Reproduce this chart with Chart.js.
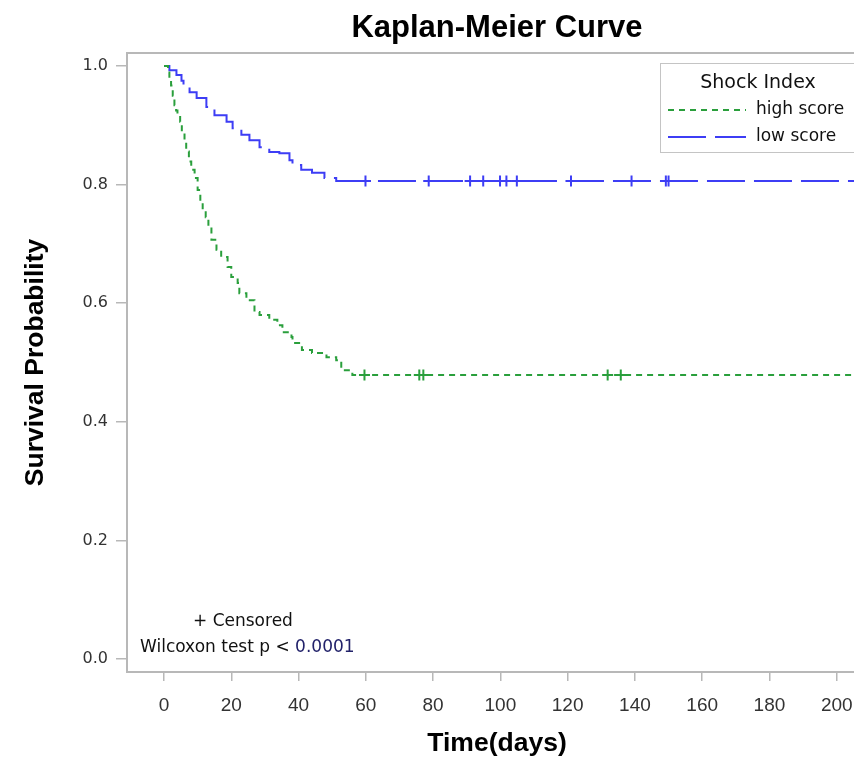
<!DOCTYPE html>
<html>
<head>
<meta charset="utf-8">
<script src="https://cdn.jsdelivr.net/npm/chart.js@4.4.1/dist/chart.umd.min.js"></script>
<style>
  html, body { margin: 0; padding: 0; background: #fff; overflow: hidden; }
  #wrap { width: 990px; height: 760px; }
</style>
</head>
<body>
<div id="wrap"><canvas id="km" width="990" height="760"></canvas></div>
<script>
// Kaplan-Meier estimates (time in days, survival probability)
const highTime = [0, 1.2, 1.6, 2.1, 2.6, 3.1, 3.6, 4.0, 4.8, 5.3, 6.1, 6.6, 7.4, 8.1, 9.1, 10.0, 10.8, 11.5, 12.4, 13.2, 14.1, 15.6, 17.0, 18.9, 20.0, 21.9, 22.4, 24.5, 26.9, 28.4, 31.3, 33.7, 35.2, 37.9, 38.2, 41.0, 44.0, 48.3, 51.2, 52.7, 56.0, 212];
const highSurv = [1.0, 0.989, 0.978, 0.967, 0.95, 0.934, 0.925, 0.917, 0.906, 0.889, 0.872, 0.856, 0.839, 0.825, 0.811, 0.791, 0.772, 0.757, 0.745, 0.728, 0.707, 0.69, 0.678, 0.661, 0.644, 0.634, 0.617, 0.605, 0.585, 0.58, 0.572, 0.563, 0.551, 0.543, 0.533, 0.521, 0.516, 0.509, 0.504, 0.487, 0.479, 0.479];
const lowTime = [0, 1.6, 3.7, 5.2, 5.8, 7.6, 9.7, 12.6, 15.0, 18.6, 20.4, 23.0, 25.4, 28.4, 31.3, 34.3, 37.3, 38.2, 40.8, 44.0, 47.7, 51.2, 212];
const lowSurv = [1.0, 0.993, 0.985, 0.975, 0.965, 0.956, 0.946, 0.931, 0.917, 0.906, 0.895, 0.884, 0.875, 0.863, 0.855, 0.853, 0.841, 0.833, 0.825, 0.82, 0.811, 0.806, 0.806];

// censored observations (all after the last event)
const highCensored = [59.6, 75.9, 77.1, 131.9, 135.8];
const lowCensored = [59.9, 78.7, 91.0, 94.9, 99.9, 101.8, 104.9, 121.0, 139.0, 149.2, 150.0];

const xTicks = [0, 20, 40, 60, 80, 100, 120, 140, 160, 180, 200];
const yTicks = [0.0, 0.2, 0.4, 0.6, 0.8, 1.0];

const GREEN = '#2a9f3c';
const BLUE = '#3d3df5';
const FRAME = '#b8b8b8';
const SANS = "'DejaVu Sans', Verdana, sans-serif";
const ARIAL = "'Liberation Sans', Arial, sans-serif";

const toPoints = (xs, ys) => xs.map((x, i) => ({x: x, y: ys[i]}));
const censorPoints = (xs, surv) => xs.map(x => ({x: x, y: surv[surv.length - 1]}));

// title, frame, legend and notes
const decorations = {
    id: 'decorations',
    afterDraw(chart) {
        const {ctx, chartArea} = chart;
        ctx.save();

        // frame top + right
        ctx.strokeStyle = FRAME;
        ctx.lineWidth = 2;
        ctx.beginPath();
        ctx.moveTo(chartArea.left, chartArea.top);
        ctx.lineTo(chartArea.right, chartArea.top);
        ctx.lineTo(chartArea.right, chartArea.bottom);
        ctx.stroke();

        // title
        ctx.fillStyle = '#000';
        ctx.font = `bold 31px ${ARIAL}`;
        ctx.textAlign = 'center';
        ctx.textBaseline = 'middle';
        ctx.fillText('Kaplan-Meier Curve', (chartArea.left + chartArea.right) / 2, 28);

        // legend
        ctx.strokeStyle = '#c4c4c4';
        ctx.lineWidth = 1;
        ctx.strokeRect(660.5, 63.5, 260, 89);
        ctx.fillStyle = '#111';
        ctx.font = `19px ${SANS}`;
        ctx.fillText('Shock Index', 758, 83);

        const entries = [chart.data.datasets[0], chart.data.datasets[1]];
        entries.forEach((ds, i) => {
            const y = 110 + i * 27;
            ctx.strokeStyle = ds.borderColor;
            ctx.lineWidth = 2;
            ctx.setLineDash(ds.borderDash);
            ctx.beginPath();
            ctx.moveTo(668, y);
            ctx.lineTo(746, y);
            ctx.stroke();
            ctx.setLineDash([]);
            ctx.fillStyle = '#111';
            ctx.font = `17px ${SANS}`;
            ctx.textAlign = 'left';
            ctx.fillText(ds.label, 756, y);
        });

        // notes
        ctx.font = `17px ${SANS}`;
        ctx.textAlign = 'left';
        ctx.fillStyle = '#111';
        ctx.fillText('+ Censored', 193, 622);
        const pre = 'Wilcoxon test p < ';
        ctx.fillText(pre, 140, 648);
        ctx.fillStyle = '#22226a';
        ctx.fillText('0.0001', 140 + ctx.measureText(pre).width, 648);

        ctx.restore();
    }
};

const ctx = document.getElementById('km').getContext('2d');
const chart = new Chart(ctx, {
    type: 'line',
    data: {
        datasets: [
            {
                label: 'high score',
                data: toPoints(highTime, highSurv),
                stepped: true,
                borderColor: GREEN,
                borderWidth: 2,
                borderDash: [6, 5],
                pointRadius: 0,
                fill: false
            },
            {
                label: 'low score',
                data: toPoints(lowTime, lowSurv),
                stepped: true,
                borderColor: BLUE,
                borderWidth: 2,
                borderDash: [38, 9],
                pointRadius: 0,
                fill: false
            },
            {
                type: 'scatter',
                label: 'high censored',
                data: censorPoints(highCensored, highSurv),
                pointStyle: 'cross',
                pointRadius: 5.5,
                borderColor: GREEN,
                borderWidth: 2,
                showLine: false
            },
            {
                type: 'scatter',
                label: 'low censored',
                data: censorPoints(lowCensored, lowSurv),
                pointStyle: 'cross',
                pointRadius: 5.5,
                borderColor: BLUE,
                borderWidth: 2,
                showLine: false
            }
        ]
    },
    options: {
        responsive: false,
        animation: false,
        layout: { padding: { left: 0, top: 53, right: 123, bottom: 0 } },
        plugins: {
            legend: { display: false },
            tooltip: { enabled: false }
        },
        scales: {
            x: {
                type: 'linear',
                min: -11,
                max: 209,
                afterBuildTicks: (scale) => { scale.ticks = xTicks.map(v => ({value: v})); },
                afterFit: (scale) => { scale.height = 88; },
                grid: { drawOnChartArea: false, drawTicks: true, tickLength: 9, color: FRAME, lineWidth: 1.5 },
                border: { display: true, color: FRAME, width: 2 },
                ticks: {
                    autoSkip: false,
                    maxRotation: 0,
                    padding: 13,
                    color: '#333',
                    font: { family: ARIAL, size: 19 },
                    callback: (v) => String(v)
                },
                title: {
                    display: true,
                    text: 'Time(days)',
                    color: '#000',
                    font: { family: ARIAL, size: 26.5, weight: 'bold' },
                    padding: { top: 0, bottom: 0 }
                }
            },
            y: {
                type: 'linear',
                min: -0.022,
                max: 1.022,
                afterBuildTicks: (scale) => { scale.ticks = yTicks.map(v => ({value: v})); },
                afterFit: (scale) => { scale.width = 127; },
                grid: { drawOnChartArea: false, drawTicks: true, tickLength: 11, color: FRAME, lineWidth: 1.5 },
                border: { display: true, color: FRAME, width: 2 },
                ticks: {
                    autoSkip: false,
                    padding: 8,
                    color: '#333',
                    font: { family: SANS, size: 16 },
                    callback: (v) => Number(v).toFixed(1)
                },
                title: {
                    display: true,
                    text: 'Survival Probability',
                    color: '#000',
                    font: { family: ARIAL, size: 26.5, weight: 'bold' },
                    padding: { top: 20, bottom: 0 }
                }
            }
        }
    },
    plugins: [decorations]
});
</script>
</body>
</html>
